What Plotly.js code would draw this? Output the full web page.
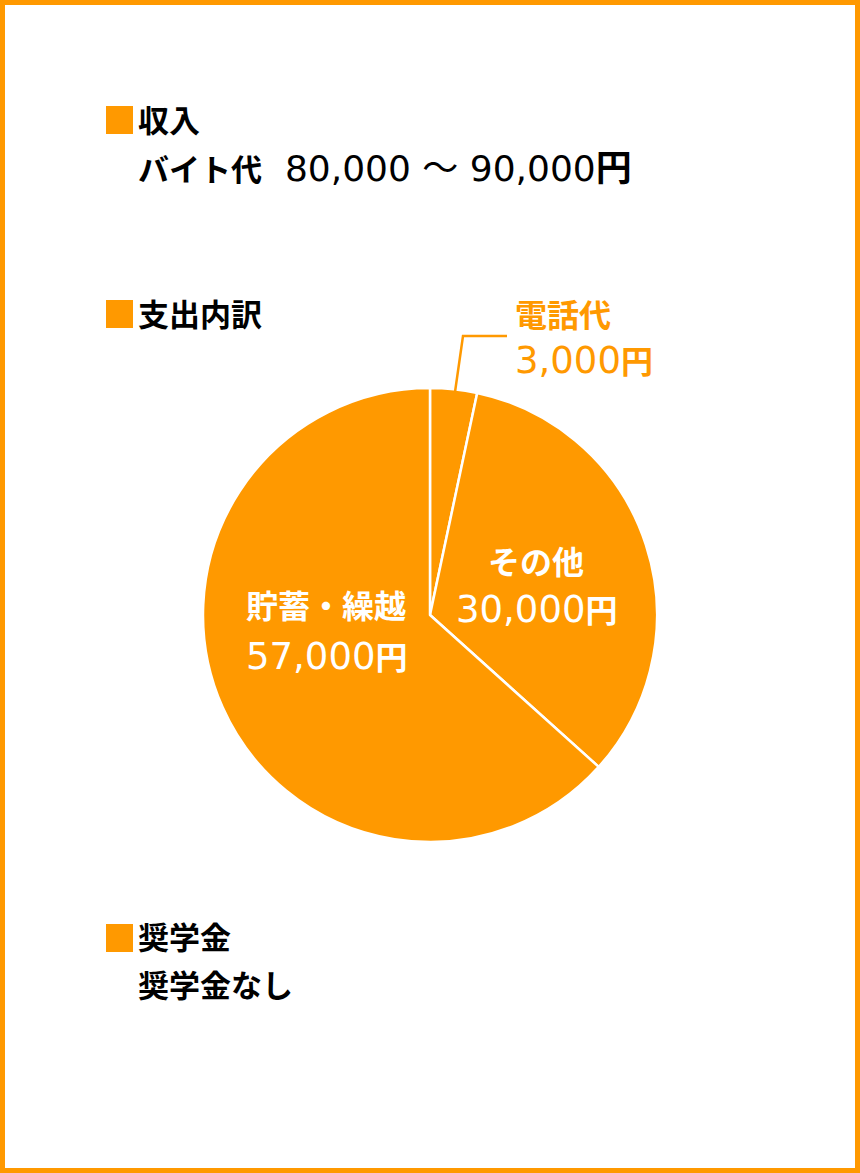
<!DOCTYPE html>
<html>
<head>
<meta charset="utf-8">
<script src="https://cdn.plot.ly/plotly-3.0.1.min.js"></script>
<style>
  html, body { margin: 0; padding: 0; background: #fff; }
  #chart { width: 860px; height: 1173px; }
</style>
</head>
<body>
<div id="chart"></div>
<script>
// 支出内訳 (円)
const labels = ['電話代', 'その他', '貯蓄・繰越'];
const values = [3000, 30000, 57000];

const incomeLabel = 'バイト代';
const incomeRange = [80000, 90000];
const scholarship = '奨学金なし';

const ORANGE = '#ff9900';
const W = 860, H = 1173;
const px = x => x / W;
const py = y => 1 - y / H;
const FONT = 'DejaVu Sans, Noto Sans CJK JP, sans-serif';
const fmt = v => v.toLocaleString('en-US');
const num = (v, size) => '<span style="font-size:' + size + 'px">' + v + '</span>';

const trace = {
    type: 'pie',
    labels: labels,
    values: values,
    sort: false,
    direction: 'clockwise',
    rotation: 0,
    domain: { x: [px(203), px(657)], y: [py(842), py(388)] },
    marker: { colors: labels.map(() => ORANGE), line: { color: '#fff', width: 2.5 } },
    textinfo: 'none',
    hoverinfo: 'none',
    showlegend: false,
};

function note(text, x, y, color, anchor, size) {
    return {
        text: text, x: px(x), y: py(y), xref: 'paper', yref: 'paper',
        xanchor: anchor || 'left', yanchor: 'middle', showarrow: false,
        font: { family: FONT, size: size || 31, color: color || '#000' },
    };
}

function square(y) {
    return {
        type: 'rect', xref: 'paper', yref: 'paper',
        x0: px(106), x1: px(133), y0: py(y + 28), y1: py(y),
        fillcolor: ORANGE, line: { width: 0 },
    };
}

// label spots for each slice: [x, y of name line, y of value line]
const spots = [[513, 316, 361, ORANGE, 'left'], [536, 563, 609, '#fff', 'center'], [326, 607, 656, '#fff', 'center']];

const annotations = [
    note('<b>収入</b>', 136, 121),
    note('<b>' + incomeLabel + '</b>' +
        num('  ' + fmt(incomeRange[0]) + ' ～ ' + fmt(incomeRange[1]) + '<b>円</b>', 36), 136, 168),
    note('<b>支出内訳</b>', 136, 315),
    note('<b>奨学金</b>', 136, 938),
    note('<b>' + scholarship + '</b>', 136, 986),
];
labels.forEach((lab, i) => {
    const s = spots[i];
    annotations.push(note('<b>' + lab + '</b>', s[0], s[1], s[3], s[4], 32));
    annotations.push(note(num(fmt(values[i]), 37) + '<b>円</b>', s[0], s[2], s[3], s[4], 32));
});

const shapes = [
    { type: 'rect', xref: 'paper', yref: 'paper', x0: px(2.5), x1: px(857.5), y0: py(1170.5), y1: py(2.5),
      line: { color: ORANGE, width: 5 }, fillcolor: 'rgba(0,0,0,0)' },
    square(106),
    square(300),
    square(924),
    { type: 'path', xref: 'paper', yref: 'paper',
      path: `M ${px(455)},${py(392)} L ${px(463)},${py(336)} L ${px(507)},${py(336)}`,
      line: { color: ORANGE, width: 2.5 } },
];

const layout = {
    width: W, height: H,
    margin: { l: 0, r: 0, t: 0, b: 0 },
    paper_bgcolor: '#fff',
    annotations: annotations,
    shapes: shapes,
    showlegend: false,
};

Plotly.newPlot('chart', [trace], layout, { staticPlot: true });
</script>
</body>
</html>
